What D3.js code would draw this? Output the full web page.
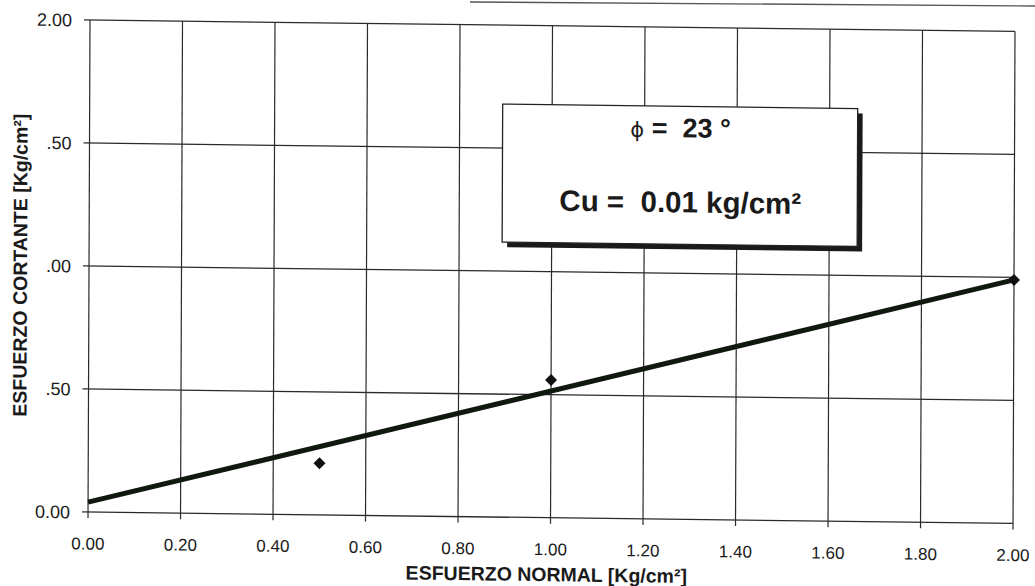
<!DOCTYPE html>
<html>
<head>
<meta charset="utf-8">
<script src="https://cdn.jsdelivr.net/npm/d3@7/dist/d3.min.js"></script>
<style>
  html, body { margin: 0; padding: 0; background: #fff; }
  svg { display: block; }
  text { font-family: "Liberation Sans", Arial, sans-serif; fill: #1a1a1a; }
  .keep { white-space: pre; }
</style>
</head>
<body>
<svg id="chart" width="1035" height="586"></svg>
<script>
// Direct shear test: normal stress vs. shear stress (kg/cm²)
const normalStress = [0.5, 1.0, 2.0];
const shearStress = [0.21, 0.56, 0.99];

// Mohr-Coulomb envelope endpoints
const envelopeX = [0.0, 2.0];
const envelopeY = [0.04, 0.99];

const xTickValues = [0, 0.2, 0.4, 0.6, 0.8, 1.0, 1.2, 1.4, 1.6, 1.8, 2.0];
const xTickLabels = ["0.00", "0.20", "0.40", "0.60", "0.80", "1.00", "1.20", "1.40", "1.60", "1.80", "2.00"];
const yTickValues = [0, 0.5, 1.0, 1.5, 2.0];
const yTickLabels = ["0.00", ".50", ".00", ".50", "2.00"];

const frictionAngle = 23;
const cohesion = "0.01";

const W = 925, H = 492;
const svg = d3.select("#chart");

// thin rule along the top of the sheet
svg.append("line")
  .attr("x1", 470).attr("y1", 2).attr("x2", 1035).attr("y2", 6)
  .attr("stroke", "#555").attr("stroke-width", 1.4);

// the whole sheet sits slightly skewed on the page
const g = svg.append("g")
  .attr("transform", "matrix(1,0.0124,-0.004,1,90,20)");

const x = d3.scaleLinear().domain([0, 2]).range([0, W]);
const y = d3.scaleLinear().domain([0, 2]).range([H, 0]);

// grid
g.append("g").selectAll("line").data(xTickValues).join("line")
  .attr("x1", d => x(d)).attr("x2", d => x(d))
  .attr("y1", 0).attr("y2", H + 6)
  .attr("stroke", "#2a2a2a").attr("stroke-width", 1.2);
g.append("g").selectAll("line").data(yTickValues).join("line")
  .attr("x1", -6).attr("x2", W)
  .attr("y1", d => y(d)).attr("y2", d => y(d))
  .attr("stroke", "#2a2a2a").attr("stroke-width", 1.3);

// tick labels
g.append("g").selectAll("text").data(xTickValues).join("text")
  .attr("x", d => x(d)).attr("y", H + 37.5)
  .attr("text-anchor", "middle")
  .attr("font-size", 17)
  .text((d, i) => xTickLabels[i]);
g.append("g").selectAll("text").data(yTickValues).join("text")
  .attr("x", -18).attr("y", d => y(d) + 6.5)
  .attr("text-anchor", "end")
  .attr("font-size", 18)
  .text((d, i) => yTickLabels[i]);

// axis titles
g.append("text")
  .attr("x", W / 2 - 4).attr("y", H + 63.5)
  .attr("text-anchor", "middle")
  .attr("font-size", 19.5).attr("font-weight", "bold")
  .text("ESFUERZO NORMAL [Kg/cm²]");
g.append("text")
  .attr("transform", `translate(-62,${H / 2}) rotate(-90)`)
  .attr("text-anchor", "middle")
  .attr("font-size", 19.5).attr("font-weight", "bold")
  .text("ESFUERZO CORTANTE [Kg/cm²]");

// envelope line
const line = d3.line().x(d => x(d[0])).y(d => y(d[1]));
g.append("path")
  .datum(envelopeX.map((v, i) => [v, envelopeY[i]]))
  .attr("d", line)
  .attr("fill", "none").attr("stroke", "#101810").attr("stroke-width", 5);

// test points (square markers turned 45°)
g.append("g").selectAll("path").data(normalStress).join("path")
  .attr("transform", (d, i) => `translate(${x(d)},${y(shearStress[i])}) rotate(45)`)
  .attr("d", d3.symbol().type(d3.symbolSquare).size(72))
  .attr("fill", "#111");

// parameter box
const box = g.append("g").attr("transform", "translate(413,79)");
box.append("rect").attr("x", 5).attr("y", 5).attr("width", 355).attr("height", 138)
  .attr("fill", "#1a1a1a");
box.append("rect").attr("x", 0).attr("y", 0).attr("width", 355).attr("height", 138)
  .attr("fill", "#fff").attr("stroke", "#222").attr("stroke-width", 1.3);
const row1 = box.append("text")
  .attr("class", "keep")
  .attr("x", 178).attr("y", 31)
  .attr("text-anchor", "middle")
  .attr("font-size", 27).attr("font-weight", "bold");
row1.append("tspan").attr("font-weight", "normal").attr("font-family", "DejaVu Sans").attr("font-size", 21).text("ϕ");
row1.append("tspan").text(` =  ${frictionAngle} °`);
box.append("text")
  .attr("class", "keep")
  .attr("x", 178).attr("y", 106)
  .attr("text-anchor", "middle")
  .attr("font-size", 29.5).attr("font-weight", "bold")
  .text(`Cu =  ${cohesion} kg/cm²`);
</script>
</body>
</html>
